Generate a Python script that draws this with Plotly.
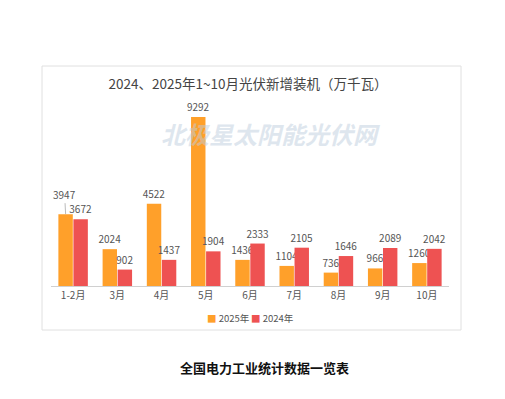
import plotly.graph_objects as go

categories = ["1-2月", "3月", "4月", "5月", "6月", "7月", "8月", "9月", "10月"]
values_2025 = [3947, 2024, 4522, 9292, 1436, 1104, 736, 966, 1260]
values_2024 = [3672, 902, 1437, 1904, 2333, 2105, 1646, 2089, 2042]
series_names = ["2025年", "2024年"]
series_colors = ["#FFA02A", "#EE5252"]

W, H = 505, 399
OFF = 8  # default page body margin
L, R, T, B = 51 - OFF, 56 + OFF, 100 - OFF, 113 + OFF
ph = H - T - B
pw = W - L - R

def py(y):
    return (H - B - (y - OFF)) / ph

def px(x):
    return ((x - OFF) - L) / pw

font = "Noto Sans CJK SC, Noto Sans, sans-serif"

fig = go.Figure()
for i, (name, vals, col) in enumerate(zip(series_names, [values_2025, values_2024], series_colors)):
    labels = [str(v) for v in vals]
    if i == 0:
        labels[0] = ""  # drawn with a leader line below
    fig.add_trace(go.Bar(
        x=categories, y=vals, name=name,
        marker=dict(color=col, line=dict(width=0)),
        text=labels, textposition="outside",
        constraintext="none", textangle=0,
        textfont=dict(size=10, color="#555"), cliponaxis=False,
    ))

fig.update_layout(
    width=W, height=H,
    margin=dict(l=L, r=R, t=T, b=B, autoexpand=False),
    paper_bgcolor="white", plot_bgcolor="white",
    font=dict(family=font, color="#555"),
    barmode="group", bargap=0.32, bargroupgap=0.04,
    title=dict(text="2024、2025年1~10月光伏新增装机（万千瓦）",
               x=(248 - OFF) / W, xanchor="center", y=1 - (84 - OFF) / H, yanchor="middle",
               font=dict(size=13.5, color="#444", family=font)),
    showlegend=False,
    xaxis=dict(showline=True, linecolor="#d0d0d0", linewidth=1, ticks="",
               tickfont=dict(size=10, color="#555"), showgrid=False, fixedrange=True),
    yaxis=dict(range=[0, 10220], visible=False, showgrid=False, fixedrange=True),
)

# first 2025 label lifted with a leader line
fig.add_annotation(x=categories[0], y=values_2025[0], xshift=-7.5,
                   text=str(values_2025[0]), showarrow=True, arrowhead=0,
                   arrowwidth=0.8, arrowcolor="#aaa", ax=-1, ay=-20, standoff=0,
                   font=dict(size=10, color="#555", family=font))

fig.add_shape(type="rect", xref="paper", yref="paper",
              x0=px(42), x1=px(461), y0=py(330), y1=py(66),
              line=dict(color="#e0e0e0", width=1), layer="below")

fig.add_annotation(text="<b><i>北极星太阳能光伏网</i></b>", xref="paper", yref="paper",
                   x=px(270), y=py(133), xanchor="center", yanchor="middle", showarrow=False,
                   font=dict(size=24, color="rgba(190,205,222,0.5)", family=font))

# legend drawn as text entries
legend_x = [228, 272]
for name, col, lx in zip(series_names, series_colors, legend_x):
    fig.add_annotation(text=f'<span style="color:{col}">■</span> {name}',
                       xref="paper", yref="paper", x=px(lx), y=py(318),
                       xanchor="center", yanchor="middle", showarrow=False,
                       font=dict(size=9.5, color="#555", family=font))

fig.add_annotation(text="<b>全国电力工业统计数据一览表</b>", xref="paper", yref="paper",
                   x=px(264), y=py(367), xanchor="center", yanchor="middle", showarrow=False,
                   font=dict(size=13, color="#111", family=font))

fig.write_html("out.html")
